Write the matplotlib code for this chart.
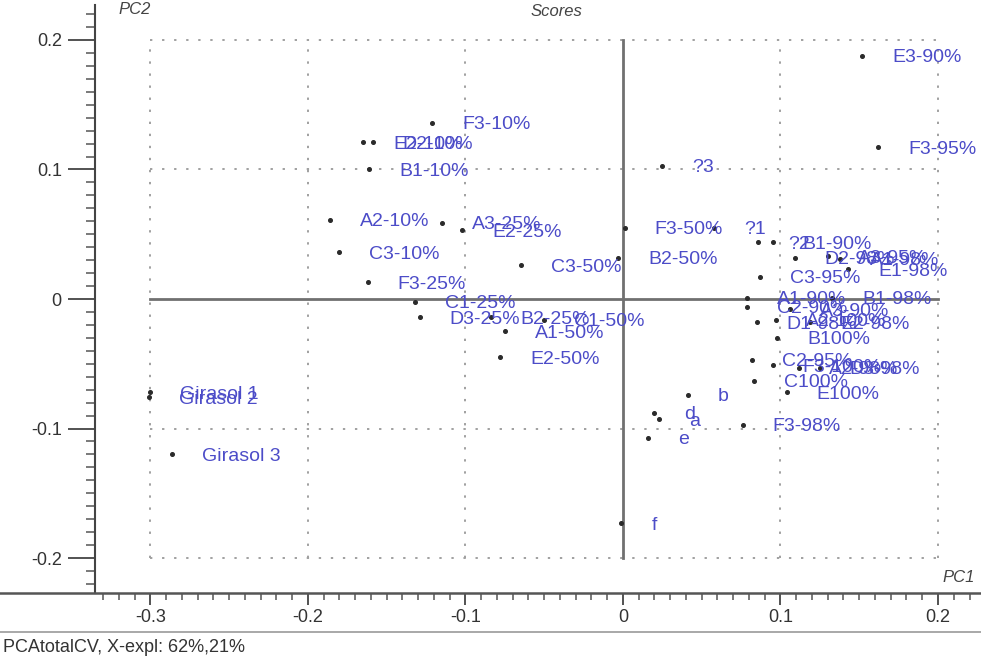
"""
PCA scores plot (PC1 vs PC2) with sample labels.
"""

import matplotlib
matplotlib.use('Agg')
import matplotlib.pyplot as plt
from matplotlib.lines import Line2D
from matplotlib.ticker import MultipleLocator

# Sample names and their scores
labels = [
    'Girasol 1', 'Girasol 2', 'Girasol 3',
    'F3-10%', 'E2-10%', 'D2-10%', 'B1-10%', 'A2-10%', 'A3-25%', 'E2-25%',
    'C3-10%', 'F3-25%', 'C3-50%', 'C1-25%', 'D3-25%', 'B2-25%', 'C1-50%',
    'A1-50%', 'E2-50%', 'F3-50%', 'B2-50%', '?1', '?3', 'E3-90%', 'F3-95%',
    '?2', 'B1-90%', 'D2-98%', 'A3-95%', 'A1-98%', 'E1-98%', 'C3-95%',
    'A1-90%', 'B1-98%', 'C2-90%', 'A3-90%', 'D1-98%', 'A2-100%', 'E2-98%',
    'B100%', 'C2-95%', 'F3-100%', 'A2-98%', 'D3-98%', 'C100%', 'E100%',
    'F3-98%', 'a', 'b', 'd', 'e', 'f',
]
pc1 = [
    -0.300, -0.301, -0.286,
    -0.121, -0.165, -0.159, -0.161, -0.186, -0.115, -0.102,
    -0.180, -0.162, -0.065, -0.132, -0.129, -0.084, -0.050,
    -0.075, -0.078, 0.001, -0.003, 0.058, 0.025, 0.152, 0.162,
    0.086, 0.095, 0.109, 0.130, 0.138, 0.143, 0.087,
    0.079, 0.133, 0.079, 0.106, 0.085, 0.097, 0.119,
    0.098, 0.082, 0.095, 0.112, 0.125, 0.083, 0.104,
    0.076, 0.023, 0.041, 0.020, 0.016, -0.001,
]
pc2 = [
    -0.072, -0.076, -0.120,
    0.136, 0.121, 0.121, 0.100, 0.061, 0.059, 0.053,
    0.036, 0.013, 0.026, -0.002, -0.014, -0.014, -0.016,
    -0.025, -0.045, 0.055, 0.032, 0.055, 0.103, 0.188, 0.117,
    0.044, 0.044, 0.032, 0.033, 0.031, 0.023, 0.017,
    0.001, 0.001, -0.006, -0.008, -0.018, -0.016, -0.018,
    -0.030, -0.047, -0.051, -0.053, -0.053, -0.063, -0.072,
    -0.097, -0.093, -0.074, -0.088, -0.107, -0.173,
]

major_ticks = [-0.3, -0.2, -0.1, 0.0, 0.1, 0.2]
y_major_ticks = [-0.2, -0.1, 0.0, 0.1, 0.2]

plt.rcParams['font.family'] = ['Liberation Sans', 'DejaVu Sans']

fig = plt.figure(figsize=(9.81, 6.58), dpi=100)
ax = fig.add_axes([95 / 981, 65 / 658, 886 / 981, 588 / 658])
ax.set_xlim(-0.3352, 0.2273)
ax.set_ylim(-0.2270, 0.2270)

# dotted grid inside the [-0.3, 0.2] x [-0.2, 0.2] box
grid_kw = dict(color='#a0a0a0', lw=1.4, ls=(0, (1.2, 5)), zorder=1)
for xv in major_ticks:
    if xv != 0:
        ax.plot([xv, xv], [-0.2, 0.2], **grid_kw)
for yv in y_major_ticks:
    if yv != 0:
        ax.plot([-0.3, 0.2], [yv, yv], **grid_kw)

# zero axes
ax.plot([0, 0], [-0.2, 0.2], color='#707070', lw=2, zorder=2)
ax.plot([-0.3, 0.2], [0, 0], color='#707070', lw=2, zorder=2)

ax.plot(pc1, pc2, ls='none', marker='o', ms=2.6, color='#2a2a2a', zorder=3)
for name, x, y in zip(labels, pc1, pc2):
    ax.annotate(name, (x, y), xytext=(30, -2), textcoords='offset pixels',
                va='center', ha='left', fontsize=14, color='#4c4cc8',
                zorder=4, annotation_clip=False)

# spines and ticks (lengths in points: px * 0.72)
for side in ('top', 'right'):
    ax.spines[side].set_visible(False)
ax.spines['left'].set_color('#444444')
ax.spines['left'].set_linewidth(1.5)
ax.spines['bottom'].set_visible(False)

ax.set_xticks(major_ticks)
ax.set_xticklabels(['-0.3', '-0.2', '-0.1', '0', '0.1', '0.2'])
ax.set_yticks(y_major_ticks)
ax.set_yticklabels(['-0.2', '-0.1', '0', '0.1', '0.2'])
ax.xaxis.set_minor_locator(MultipleLocator(0.01))
ax.yaxis.set_minor_locator(MultipleLocator(0.01))
ax.tick_params(axis='x', which='major', direction='out', length=8.6, width=1.3,
               color='#444444', labelsize=13, labelcolor='#333333', pad=3)
ax.tick_params(axis='x', which='minor', direction='out', length=5, width=1.1,
               color='#555555')
ax.tick_params(axis='y', which='major', direction='out', length=19.4, width=1.3,
               color='#444444', labelsize=13, labelcolor='#333333', pad=4.5)
ax.tick_params(axis='y', which='minor', direction='out', length=6.5, width=1.1,
               color='#555555')

# frame lines across the whole width
fig.add_artist(Line2D([0, 1], [65 / 658, 65 / 658], color='#555555', lw=1.8))
fig.add_artist(Line2D([0, 1], [26 / 658, 26 / 658], color='#9a9a9a', lw=1.2))

fig.text(118 / 981, 1 - 9 / 658, 'PC2', fontsize=12, style='italic',
         color='#444444', va='center')
fig.text(556 / 981, 1 - 12 / 658, 'Scores', fontsize=12, style='italic',
         color='#444444', va='center', ha='center')
fig.text(975 / 981, 1 - 577 / 658, 'PC1', fontsize=12, style='italic',
         color='#444444', va='center', ha='right')
fig.text(3 / 981, 1 - 648 / 658, 'PCAtotalCV, X-expl: 62%,21%', fontsize=13,
         color='#333333', va='center')

fig.savefig('out.png', dpi=100, facecolor='white')
plt.close(fig)
